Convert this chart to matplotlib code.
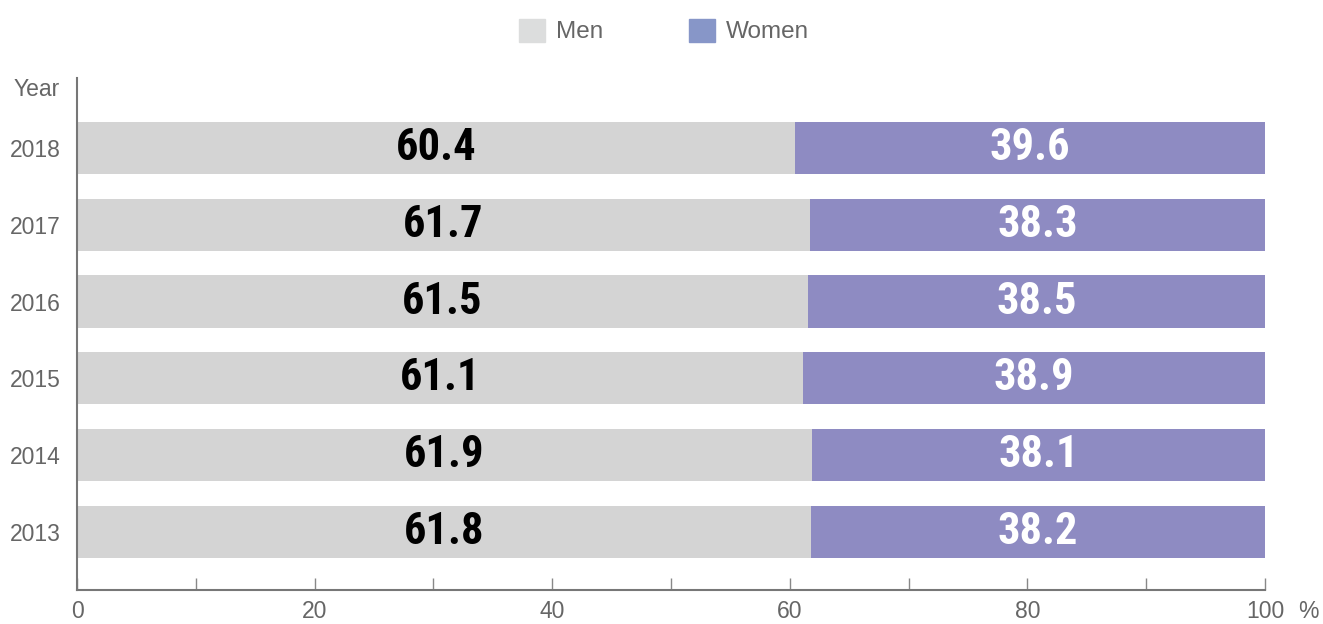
import matplotlib.pyplot as plt
from matplotlib.patches import Patch

years = ["2013", "2014", "2015", "2016", "2017", "2018"]
men = [61.8, 61.9, 61.1, 61.5, 61.7, 60.4]
women = [38.2, 38.1, 38.9, 38.5, 38.3, 39.6]

plt.rcParams['font.family'] = ['Liberation Sans', 'DejaVu Sans']

# condensed font for the bar values (first one that exists wins)
val_font = ['Roboto Condensed', 'Liberation Sans Narrow', 'DejaVu Sans']

gray = "#666666"
men_col = "#d4d4d4"
women_col = "#8e8bc2"

fig = plt.figure(figsize=(13.23, 6.24), dpi=100)
ax = fig.add_axes([77 / 1323, 1 - 590 / 624, (1265 - 77) / 1323, (590 - 78) / 624])

pos = list(range(len(years)))
ax.barh(pos, men, height=0.68, color=men_col)
ax.barh(pos, women, left=men, height=0.68, color=women_col)

for p, m, w in zip(pos, men, women):
    ax.text(m / 2, p, f"{m}", ha='center', va='center', fontsize=32,
            fontweight='bold', family=val_font, fontstretch='condensed', color='black')
    ax.text(m + w / 2, p, f"{w}", ha='center', va='center', fontsize=32,
            fontweight='bold', family=val_font, fontstretch='condensed', color='white')

ax.set_xlim(0, 100)
ax.set_ylim(-0.755, 5.91)
ax.set_yticks(pos)
ax.set_yticklabels(years)
ax.set_xticks([0, 20, 40, 60, 80, 100])
ax.set_xticks([10, 30, 50, 70, 90], minor=True)

ax.tick_params(axis='y', length=0, pad=12, labelsize=16.5, labelcolor=gray)
ax.tick_params(axis='x', which='both', direction='in', length=9, width=1,
               color="#888888", labelsize=16.5, labelcolor=gray, pad=7)

for s in ['top', 'right']:
    ax.spines[s].set_visible(False)
for s in ['left', 'bottom']:
    ax.spines[s].set_color("#777777")
    ax.spines[s].set_linewidth(1.5)

fig.text(37 / 1323, 1 - 89 / 624, "Year", ha='center', va='center',
         fontsize=16.5, color=gray)
fig.text(1308 / 1323, 1 - 611 / 624, "%", ha='center', va='center',
         fontsize=16.5, color=gray)

handles = [Patch(color="#dcdddd", label="Men"), Patch(color="#8796c8", label="Women")]
fig.legend(handles=handles, loc='center', bbox_to_anchor=(664 / 1323, 1 - 31 / 624),
           ncol=2, frameon=False, fontsize=17.5, labelcolor=gray,
           handlelength=1.1, handleheight=1.1, columnspacing=3.5, handletextpad=0.45)

fig.savefig("out.png", dpi=100)
